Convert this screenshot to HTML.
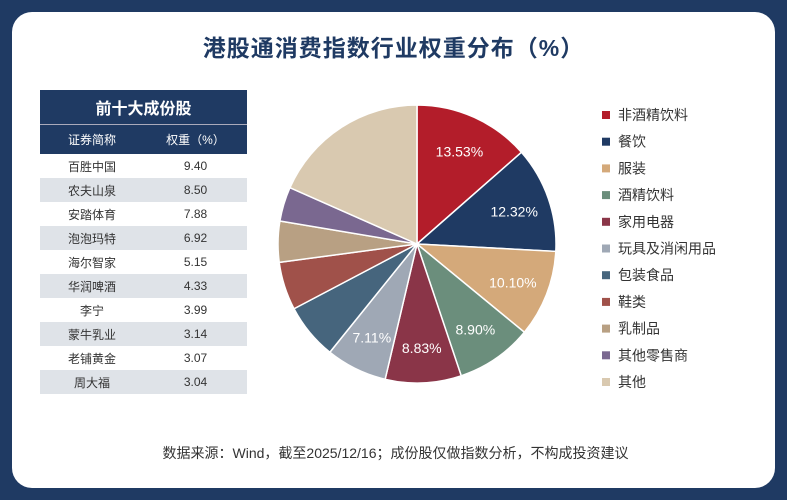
<!DOCTYPE html>
<html><head><meta charset="utf-8"><style>
body{margin:0;width:787px;height:500px;background:#1f3a63;font-family:"Liberation Sans","Noto Sans CJK SC",sans-serif;overflow:hidden}
.card{position:absolute;left:12px;top:12px;width:763px;height:476px;background:#fff;border-radius:20px}
.t{position:absolute;left:0;width:787px;text-align:center}
table{position:absolute;left:40px;top:90px;width:207px;border-collapse:collapse;font-size:12px;color:#333}
td,th{padding:0;text-align:center}
</style></head><body>
<div class="card"></div>
<div class="t" style="top:29px;font-size:23px;font-weight:bold;color:#1f3a63;letter-spacing:1px">港股通消费指数行业权重分布（%）</div>
<table>
<tr style="background:#1f3a63;color:#fff;height:34px"><th colspan="2" style="font-size:16px">前十大成份股</th></tr>
<tr style="background:#1f3a63;color:#fff;height:30px;border-top:1px solid #aab"><th style="font-weight:normal;width:104px">证券简称</th><th style="font-weight:normal">权重（%）</th></tr>
<tbody id="tb"></tbody>
</table>
<svg id="pie" width="787" height="500" style="position:absolute;left:0;top:0"></svg>
<div class="t" style="top:443px;font-size:14px;color:#333;left:2px">数据来源：Wind，截至2025/12/16；成份股仅做指数分析，不构成投资建议</div>
<script>
const stocks=["百胜中国","农夫山泉","安踏体育","泡泡玛特","海尔智家","华润啤酒","李宁","蒙牛乳业","老铺黄金","周大福"];
const weights=["9.40","8.50","7.88","6.92","5.15","4.33","3.99","3.14","3.07","3.04"];
const cats=["非酒精饮料","餐饮","服装","酒精饮料","家用电器","玩具及消闲用品","包装食品","鞋类","乳制品","其他零售商","其他"];
const vals=[13.53,12.32,10.10,8.90,8.83,7.11,6.5,5.6,4.75,4.0,18.36];
const showLabel=[true,true,true,true,true,true,false,false,false,false,false];
const colors=["#b31d2a","#1f3a63","#d4a97a","#6b8e7c","#8a3548","#9fa8b5","#46657d","#a0514a","#b8a083","#7a6890","#d9c9b0"];
const tb=document.getElementById('tb');
stocks.forEach((s,i)=>{const tr=document.createElement('tr');


tr.style.height='24px';tr.style.background=i%2?'#dfe3e8':'#fff';
tr.innerHTML='<td>'+s+'</td><td>'+weights[i]+'</td>';tb.appendChild(tr);});
const svg=document.getElementById('pie'),NS='http://www.w3.org/2000/svg';
const cx=417,cy=244,r=139;const tot=vals.reduce((a,b)=>a+b,0);
let a0=0;
function pt(a,rr){return [cx+rr*Math.sin(a),cy-rr*Math.cos(a)];}
vals.forEach((v,i)=>{const a1=a0+v/tot*2*Math.PI;const p0=pt(a0,r),p1=pt(a1,r);
const p=document.createElementNS(NS,'path');
p.setAttribute('d',`M${cx},${cy}L${p0[0]},${p0[1]}A${r},${r} 0 ${a1-a0>Math.PI?1:0} 1 ${p1[0]},${p1[1]}Z`);
p.setAttribute('fill',colors[i]);p.setAttribute('stroke','#fff');p.setAttribute('stroke-width','1.5');


svg.appendChild(p);
if(showLabel[i]){const m=pt((a0+a1)/2,r*0.74);const t=document.createElementNS(NS,'text');
t.setAttribute('x',m[0]);t.setAttribute('y',m[1]+6);t.setAttribute('text-anchor','middle');t.setAttribute('fill','#fff');t.setAttribute('font-size','14');
t.textContent=v.toFixed(2)+'%';


svg.appendChild(t);}
a0=a1;});
cats.forEach((c,i)=>{const y=115+i*26.7;
const g=document.createElementNS(NS,'g');


const rc=document.createElementNS(NS,'rect');rc.setAttribute('x',602);rc.setAttribute('y',y-4);rc.setAttribute('width',8);rc.setAttribute('height',8);rc.setAttribute('fill',colors[i]);
const t=document.createElementNS(NS,'text');t.setAttribute('x',618);t.setAttribute('y',y+5);t.setAttribute('font-size','14');t.setAttribute('fill','#333');t.textContent=c;
g.appendChild(rc);g.appendChild(t);svg.appendChild(g);});
</script>
</body></html>
